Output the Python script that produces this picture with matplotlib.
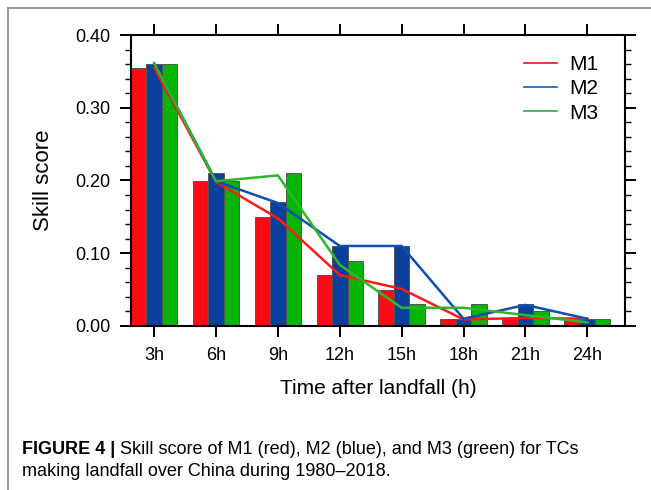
import matplotlib.pyplot as plt
from matplotlib.lines import Line2D
from matplotlib.ticker import MultipleLocator, FormatStrFormatter
import numpy as np

hours = ['3h', '6h', '9h', '12h', '15h', '18h', '21h', '24h']

# bar values
m1_bar = [0.355, 0.20, 0.15, 0.07, 0.05, 0.01, 0.01, 0.01]
m2_bar = [0.36, 0.21, 0.17, 0.11, 0.11, 0.01, 0.03, 0.01]
m3_bar = [0.36, 0.20, 0.21, 0.09, 0.03, 0.03, 0.02, 0.01]

# line values
m1_line = [0.355, 0.198, 0.148, 0.070, 0.051, 0.009, 0.011, 0.010]
m2_line = [0.361, 0.199, 0.169, 0.110, 0.110, 0.010, 0.029, 0.010]
m3_line = [0.361, 0.199, 0.207, 0.084, 0.025, 0.025, 0.015, 0.005]

plt.rcParams['font.family'] = ['Liberation Sans', 'DejaVu Sans']

fig = plt.figure(figsize=(6.51, 4.90), dpi=100)
ax = fig.add_axes([131 / 651, 1 - 326 / 490, (625 - 131) / 651, (326 - 35) / 490])

x = np.arange(len(hours))
w = 0.25
ax.bar(x - w, m1_bar, w, color='#ff0a14', edgecolor='#555555', linewidth=0.7, zorder=2)
ax.bar(x, m2_bar, w, color='#0a3f9c', edgecolor='#555555', linewidth=0.7, zorder=2)
ax.bar(x + w, m3_bar, w, color='#06b406', edgecolor='#555555', linewidth=0.7, zorder=2)

ax.plot(x, m1_line, color='#ff1a1a', lw=1.8, zorder=3)
ax.plot(x, m2_line, color='#0c4fb0', lw=1.8, zorder=3)
ax.plot(x, m3_line, color='#2ab82a', lw=1.8, zorder=3)

ax.set_xlim(-0.375, 7.61)
ax.set_ylim(0, 0.40)
ax.set_xticks(x)
ax.set_xticklabels(hours, fontsize=13)
ax.yaxis.set_major_locator(MultipleLocator(0.1))
ax.yaxis.set_minor_locator(MultipleLocator(0.02))
ax.yaxis.set_major_formatter(FormatStrFormatter('%.2f'))
ax.tick_params(axis='y', which='major', labelsize=13)
ax.tick_params(axis='both', which='major', direction='out', length=8, width=1.4, pad=7)
ax.tick_params(axis='y', which='minor', direction='out', length=4, width=1.0, right=True)
ax.tick_params(axis='y', which='major', right=True)
ax.tick_params(axis='x', which='major', top=True)
for s in ax.spines.values():
    s.set_linewidth(1.5)

ax.set_xlabel('Time after landfall (h)', fontsize=15, labelpad=11)
ax.set_ylabel('Skill score', fontsize=16, labelpad=15)

handles = [Line2D([], [], color='#e8262b', lw=1.3),
           Line2D([], [], color='#1a6fd0', lw=1.3),
           Line2D([], [], color='#3cb44b', lw=1.3)]
ax.legend(handles, ['M1', 'M2', 'M3'], loc='upper right', bbox_to_anchor=(0.985, 0.995),
          frameon=False, fontsize=15, handlelength=1.6, labelspacing=0.25, handletextpad=0.6)

# caption box border
fig.add_artist(Line2D([8 / 651, 8 / 651], [0, 1 - 8 / 490], transform=fig.transFigure, color='#888888', lw=1.2))
fig.add_artist(Line2D([8 / 651, 1], [1 - 8 / 490, 1 - 8 / 490], transform=fig.transFigure, color='#888888', lw=1.2))

cap1 = fig.text(22 / 651, 1 - 449 / 490, 'FIGURE 4 |', fontsize=13, fontweight='bold', va='center')
ax.annotate(' Skill score of M1 (red), M2 (blue), and M3 (green) for TCs', xy=(1, 0.5),
            xycoords=cap1, va='center', ha='left', fontsize=13, annotation_clip=False)
fig.text(22 / 651, 1 - 471 / 490, 'making landfall over China during 1980\u20132018.',
         fontsize=13, va='center')

fig.savefig('out.png', dpi=100)
